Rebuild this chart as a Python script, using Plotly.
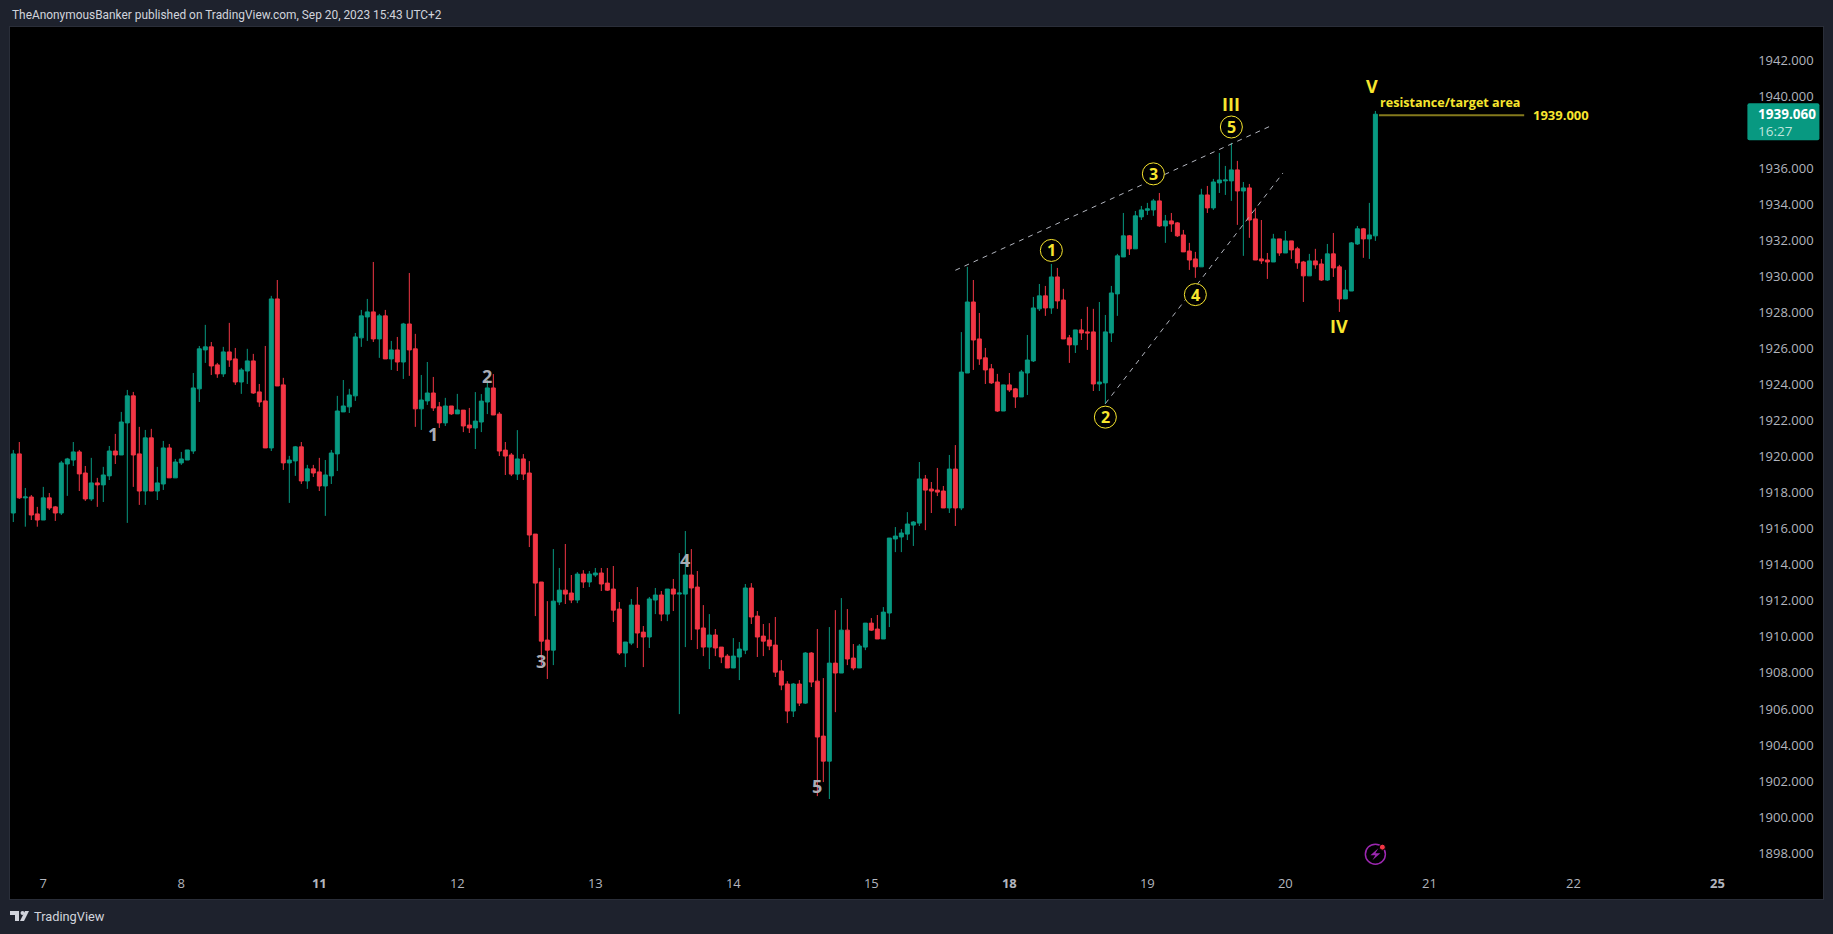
import plotly.graph_objects as go

opens = [
    1916.93,1920.21,1917.77,1917.82,1916.88,1916.54,1917.77,1917.27,1916.93,1919.65,
    1919.87,1920.32,1919.15,1917.71,1918.60,1918.49,1918.99,1920.37,1920.15,1921.93,
    1923.43,1920.21,1918.15,1921.10,1918.15,1918.54,1920.54,1918.88,1919.71,1919.87,
    1920.37,1923.82,1925.98,1926.15,1925.15,1924.65,1925.87,1925.48,1924.20,1924.81,
    1925.37,1923.65,1923.15,1920.54,1928.81,1924.04,1919.71,1919.82,1920.60,1918.71,
    1919.38,1919.21,1918.43,1918.99,1920.21,1922.54,1922.82,1923.43,1926.65,1927.81,
    1928.09,1926.59,1927.87,1925.48,1925.98,1925.31,1927.42,1926.04,1922.71,1923.15,
    1923.59,1922.82,1921.93,1922.87,1922.43,1922.64,1921.81,1921.65,1921.98,1923.09,
    1923.87,1922.42,1920.42,1920.15,1919.09,1919.93,1919.15,1915.76,1913.10,1909.88,
    1909.32,1911.99,1912.65,1912.49,1912.10,1913.54,1913.10,1913.49,1913.60,1913.04,
    1912.71,1911.60,1909.16,1909.71,1911.82,1910.32,1910.05,1912.10,1912.38,1911.32,
    1912.71,1912.43,1912.43,1913.49,1912.82,1910.55,1909.49,1910.16,1909.49,1908.99,
    1908.33,1908.94,1909.32,1912.77,1911.21,1910.10,1909.88,1909.60,1908.16,1907.44,
    1905.94,1907.44,1906.38,1909.16,1907.60,1904.55,1903.16,1908.60,1908.05,1910.43,
    1908.88,1908.33,1909.49,1910.82,1910.49,1909.94,1911.38,1915.49,1915.60,1915.76,
    1916.26,1916.37,1918.82,1918.26,1918.20,1918.15,1917.21,1919.37,1917.21,1924.70,
    1928.64,1926.59,1925.54,1924.93,1924.20,1922.59,1924.04,1923.82,1923.37,1924.70,
    1925.37,1928.26,1928.98,1928.31,1930.03,1928.75,1926.65,1926.26,1927.09,1926.98,
    1926.98,1924.09,1924.15,1926.92,1929.09,1931.14,1932.31,1931.59,1933.36,1933.73,
    1933.75,1934.25,1932.86,1933.14,1933.03,1932.36,1931.47,1931.03,1930.59,1934.58,
    1933.86,1935.25,1935.36,1935.36,1935.97,1934.80,1934.97,1933.25,1931.03,1930.97,
    1930.86,1932.14,1931.36,1932.03,1931.59,1930.86,1930.09,1930.92,1930.75,1929.86,
    1931.31,1930.59,1928.81,1929.25,1931.86,1932.70,1932.14,1932.31,
]
highs = [
    1920.43,1920.87,1918.32,1917.93,1917.27,1918.38,1918.04,1917.32,1919.82,1919.99,
    1920.87,1920.43,1919.54,1919.99,1918.88,1919.49,1920.65,1921.32,1922.54,1923.76,
    1923.65,1921.71,1921.54,1921.60,1919.49,1920.93,1920.76,1919.93,1920.32,1920.43,
    1924.70,1926.20,1927.37,1926.42,1925.26,1926.15,1927.48,1926.09,1924.98,1926.04,
    1925.76,1924.09,1926.20,1928.98,1929.86,1924.43,1920.10,1920.65,1920.87,1919.60,
    1919.60,1919.99,1919.87,1920.43,1923.43,1924.31,1923.82,1926.92,1928.20,1928.81,
    1930.86,1927.98,1928.20,1926.48,1926.70,1927.48,1930.25,1926.87,1924.59,1925.31,
    1924.48,1923.09,1923.32,1922.87,1923.54,1922.64,1922.76,1923.64,1923.53,1924.31,
    1924.64,1922.53,1920.87,1920.26,1921.53,1920.20,1919.81,1915.76,1913.10,1912.04,
    1914.93,1913.88,1915.21,1913.49,1913.65,1913.76,1913.71,1913.88,1913.88,1913.88,
    1913.99,1911.99,1909.77,1912.16,1912.82,1910.66,1912.27,1912.77,1912.60,1912.71,
    1913.27,1914.71,1915.93,1914.93,1913.71,1911.82,1911.32,1910.49,1909.49,1909.10,
    1909.99,1909.77,1912.99,1913.04,1911.49,1910.77,1910.82,1911.16,1908.77,1907.60,
    1907.49,1907.66,1909.21,1909.21,1910.49,1907.77,1910.60,1911.54,1912.21,1911.60,
    1909.66,1909.66,1910.82,1911.10,1911.27,1911.71,1915.54,1916.15,1916.04,1916.98,
    1916.48,1919.76,1919.04,1918.65,1919.43,1918.43,1920.15,1920.70,1926.97,1930.59,
    1929.86,1928.03,1926.09,1925.20,1924.65,1924.04,1924.70,1923.87,1924.87,1926.81,
    1928.92,1929.64,1929.53,1930.75,1930.53,1929.37,1926.81,1927.09,1927.70,1928.37,
    1928.26,1928.64,1927.92,1929.53,1931.31,1933.58,1932.36,1933.69,1933.97,1934.14,
    1934.36,1934.69,1933.47,1933.58,1933.08,1932.64,1931.92,1931.42,1934.92,1935.08,
    1935.47,1936.91,1936.19,1937.47,1936.47,1935.30,1935.19,1933.86,1933.19,1931.36,
    1932.42,1932.14,1932.58,1932.03,1931.70,1930.92,1931.31,1931.59,1931.03,1931.86,
    1932.47,1930.70,1930.42,1931.97,1932.86,1932.75,1934.14,1939.24,
]
lows = [
    1916.43,1917.71,1916.17,1916.54,1916.17,1916.54,1917.10,1916.49,1916.82,1917.88,
    1919.54,1918.15,1917.60,1917.60,1917.27,1917.54,1918.76,1919.65,1920.15,1916.38,
    1918.38,1917.38,1917.38,1918.15,1917.65,1918.21,1918.88,1918.88,1919.60,1919.87,
    1920.21,1923.09,1925.26,1924.59,1924.43,1924.48,1925.04,1924.04,1923.54,1924.09,
    1923.54,1922.82,1920.54,1920.37,1923.98,1919.32,1917.49,1918.99,1918.54,1918.27,
    1918.93,1918.15,1916.77,1918.54,1919.26,1922.54,1922.48,1923.15,1926.15,1926.48,
    1926.42,1925.54,1925.48,1924.87,1924.81,1924.37,1924.54,1921.71,1921.54,1922.93,
    1922.59,1921.65,1921.76,1922.37,1922.43,1921.42,1921.37,1920.48,1921.42,1922.42,
    1922.37,1920.09,1919.04,1918.98,1918.76,1918.76,1915.04,1911.21,1908.49,1907.72,
    1908.49,1911.82,1911.88,1911.93,1911.93,1912.77,1912.82,1913.38,1912.60,1912.60,
    1910.88,1909.05,1908.38,1909.60,1909.44,1908.38,1909.44,1911.32,1910.93,1910.93,
    1911.49,1905.77,1909.49,1909.88,1909.38,1908.99,1908.27,1908.99,1908.60,1908.33,
    1908.33,1907.66,1909.10,1910.77,1908.94,1908.99,1909.32,1907.83,1907.10,1905.27,
    1905.61,1906.22,1906.33,1907.27,1901.22,1902.00,1901.06,1905.88,1908.05,1908.49,
    1908.21,1908.33,1909.32,1910.38,1909.94,1909.94,1910.60,1914.76,1914.76,1915.43,
    1915.10,1916.21,1915.98,1916.93,1917.87,1917.21,1916.93,1916.21,1917.09,1924.70,
    1924.87,1925.15,1924.09,1924.09,1922.54,1922.59,1923.65,1922.76,1923.37,1923.48,
    1925.31,1928.14,1927.87,1927.98,1928.26,1926.59,1925.26,1925.81,1926.53,1925.98,
    1923.70,1923.70,1922.98,1926.42,1927.87,1931.14,1931.25,1931.59,1933.19,1933.47,
    1933.42,1932.81,1931.92,1932.53,1932.25,1931.42,1930.42,1929.98,1930.59,1933.58,
    1933.75,1934.69,1934.58,1934.25,1932.92,1931.20,1932.20,1930.97,1930.75,1929.92,
    1930.86,1931.20,1931.36,1931.03,1930.48,1928.64,1930.09,1930.48,1929.81,1929.81,
    1930.03,1928.09,1928.81,1929.25,1931.81,1931.09,1931.03,1932.03,
]
closes = [
    1920.21,1917.77,1917.82,1916.82,1916.54,1917.77,1917.21,1916.93,1919.71,1919.93,
    1920.32,1919.10,1917.71,1918.60,1918.49,1919.04,1920.37,1920.15,1921.98,1923.43,
    1920.15,1918.15,1921.10,1918.15,1918.60,1920.54,1918.88,1919.76,1919.93,1920.43,
    1923.87,1926.04,1926.15,1925.09,1924.65,1925.87,1925.42,1924.20,1924.87,1925.37,
    1923.59,1923.09,1920.54,1928.81,1923.98,1919.71,1919.87,1920.60,1918.71,1919.38,
    1919.15,1918.43,1919.04,1920.26,1922.59,1922.87,1923.48,1926.70,1927.87,1928.09,
    1926.59,1927.87,1925.48,1925.98,1925.31,1927.42,1925.98,1922.71,1923.20,1923.59,
    1922.76,1921.93,1922.87,1922.43,1922.65,1921.76,1921.65,1922.03,1923.14,1923.87,
    1922.37,1920.37,1920.09,1919.09,1919.93,1919.09,1915.71,1913.04,1909.82,1909.32,
    1912.04,1912.65,1912.43,1912.10,1913.54,1913.10,1913.54,1913.60,1912.99,1912.65,
    1911.54,1909.16,1909.77,1911.82,1910.27,1910.05,1912.16,1912.38,1911.32,1912.71,
    1912.43,1912.49,1913.49,1912.77,1910.49,1909.49,1910.16,1909.44,1908.94,1908.33,
    1908.99,1909.38,1912.77,1911.16,1910.05,1909.82,1909.55,1908.10,1907.38,1905.94,
    1907.44,1906.38,1909.16,1907.55,1904.50,1903.16,1908.60,1908.05,1910.43,1908.83,
    1908.33,1909.55,1910.82,1910.43,1909.94,1911.43,1915.54,1915.65,1915.82,1916.32,
    1916.43,1918.82,1918.20,1918.15,1918.09,1917.21,1919.37,1917.21,1924.75,1928.64,
    1926.53,1925.48,1924.87,1924.15,1922.59,1924.04,1923.76,1923.37,1924.76,1925.42,
    1928.31,1928.98,1928.31,1930.03,1928.70,1926.59,1926.26,1927.09,1926.92,1926.92,
    1924.09,1924.20,1926.98,1929.14,1931.20,1932.31,1931.59,1933.42,1933.75,1933.81,
    1934.25,1932.86,1933.14,1932.97,1932.31,1931.42,1930.97,1930.59,1934.58,1933.86,
    1935.30,1935.41,1935.41,1935.97,1934.80,1934.97,1933.19,1930.97,1930.92,1930.86,
    1932.14,1931.36,1932.03,1931.53,1930.81,1930.09,1930.92,1930.70,1929.86,1931.31,
    1930.53,1928.81,1929.31,1931.92,1932.70,1932.14,1932.36,1939.06,
]
assert len(opens) == len(highs) == len(lows) == len(closes) == 228

# date labels sit on bar numbers, the axis is plain bar index (no gaps at weekends)
day_ticks = [5, 28, 51, 74, 97, 120, 143, 166, 189, 212, 236, 260, 284]
day_labels = ["7", "8", "<b>11</b>", "12", "13", "14", "15", "<b>18</b>", "19", "20", "21", "22", "<b>25</b>"]
price_ticks = [1898 + 2 * i for i in range(23) if 1898 + 2 * i != 1938]  # 1938 is under the price tag

gray_waves = [("1", 70, 1921.3), ("2", 79, 1924.55), ("3", 88, 1908.7), ("4", 112, 1914.35), ("5", 134, 1901.8)]
circle_waves = [("1", 173, 1931.5), ("2", 182, 1922.25), ("3", 190, 1935.75), ("4", 197, 1929.05), ("5", 203, 1938.35)]
roman_waves = [("III", 203, 1939.65), ("IV", 221, 1927.3), ("V", 226.4, 1940.65)]

upper_trend = (157, 1930.4, 209.5, 1938.4)
lower_trend = (182, 1923.0, 211.6, 1935.8)
target_price = 1939.0
last_price = 1939.06

BG = "#1E222D"
BORDER = "#2A2E39"
GREEN = "#089981"
RED = "#F23645"
YELLOW = "#F7E52E"
GRAY = "#B2B5BE"
FONT = "Open Sans"

fig = go.Figure(go.Candlestick(
    x=list(range(len(opens))), open=opens, high=highs, low=lows, close=closes,
    whiskerwidth=0,
    increasing=dict(line=dict(color=GREEN, width=1), fillcolor=GREEN),
    decreasing=dict(line=dict(color=RED, width=1), fillcolor=RED),
    showlegend=False, hoverinfo="skip",
))

shapes = []
for x0, y0, x1, y1 in (upper_trend, lower_trend):
    shapes.append(dict(type="line", x0=x0, y0=y0, x1=x1, y1=y1,
                       line=dict(color=GRAY, width=1, dash="5px,5px")))
for _, cx, cy in circle_waves:
    shapes.append(dict(type="circle", xref="x", yref="y", xsizemode="pixel", ysizemode="pixel",
                       xanchor=cx, yanchor=cy, x0=-11, x1=11, y0=-11, y1=11,
                       fillcolor="#000000", line=dict(color=YELLOW, width=1)))
shapes.append(dict(type="line", x0=227.6, x1=251.8, y0=target_price, y1=target_price,
                   line=dict(color="#857A1C", width=2)))
# last price tag, rounded corners
shapes.append(dict(type="path", xref="x", yref="y", xsizemode="pixel", ysizemode="pixel",
                   xanchor=289, yanchor=last_price,
                   path="M 0 9 Q 0 11 2 11 L 70 11 Q 72 11 72 9 L 72 -24 Q 72 -26 70 -26 L 2 -26 Q 0 -26 0 -24 Z",
                   fillcolor=GREEN, line=dict(width=0)))
# lightning icon near the last bar
shapes += [
    dict(type="circle", xref="x", yref="y", xsizemode="pixel", ysizemode="pixel",
         xanchor=227, yanchor=1898, x0=-10, x1=10, y0=-10, y1=10,
         line=dict(color="#9C27B0", width=1.5)),
    dict(type="path", xref="x", yref="y", xsizemode="pixel", ysizemode="pixel",
         xanchor=227, yanchor=1898, path="M 3 6 L -5 -1 L 0 -1 L -3 -6 L 5 1 L 0 1 Z",
         fillcolor="#9C27B0", line=dict(width=0)),
    dict(type="circle", xref="x", yref="y", xsizemode="pixel", ysizemode="pixel",
         xanchor=227, yanchor=1898, x0=4, x1=10, y0=4, y1=10,
         fillcolor=RED, line=dict(color="#000000", width=1)),
]
# TradingView logo, pixels below the plot's bottom left corner
logo = dict(xref="paper", yref="paper", xsizemode="pixel", ysizemode="pixel", xanchor=0, yanchor=0,
            fillcolor="#D1D4DC", line=dict(width=0))
shapes += [
    dict(type="path", path="M 0 -12 L 9 -12 L 9 -22 L 5 -22 L 5 -16 L 0 -16 Z", **logo),
    dict(type="path", path="M 15 -12 L 19 -12 L 14 -22 L 10 -22 Z", **logo),
    dict(type="circle", x0=10.5, x1=14.5, y0=-12, y1=-16, **logo),
]


def label(text, x, y, color, size, bold=False, xanchor="center", xref="x", yref="y", family=FONT):
    return dict(text=f"<b>{text}</b>" if bold else text, x=x, y=y, xref=xref, yref=yref,
                showarrow=False, xanchor=xanchor, yanchor="middle",
                font=dict(family=family, size=size, color=color))


annotations = []
for t, x, y in gray_waves:
    annotations.append(label(t, x, y, "#A9ACB5", 18, bold=True))
for t, x, y in circle_waves:
    annotations.append(label(t, x, y, YELLOW, 16, bold=True))
for t, x, y in roman_waves:
    annotations.append(label(t, x, y, YELLOW, 18, bold=True))
annotations += [
    label("resistance/target area", 227.5, 1939.7, YELLOW, 12.6, bold=True, xanchor="left"),
    label("1939.000", 252.9, target_price, YELLOW, 13, bold=True, xanchor="left"),
    label("1939.060", 290.4, last_price, "#FFFFFF", 13.5, bold=True, xanchor="left"),
    label("16:27", 290.4, 1938.15, "#BFE5DD", 13.5, xanchor="left"),
    label("TheAnonymousBanker published on TradingView.com, Sep 20, 2023 15:43 UTC+2",
          0, 1.0138, "#D1D4DC", 11.9, xanchor="left", xref="paper", yref="paper", family="Roboto"),
    label("TradingView", 0.0122, -0.0206, "#D1D4DC", 12.8, xanchor="left", xref="paper", yref="paper", family="Roboto"),
]

fig.update_layout(
    width=1833, height=934,
    margin=dict(l=10, r=10, t=27, b=35, autoexpand=False),
    paper_bgcolor=BG, plot_bgcolor="#000000",
    boxgap=0.05, boxgroupgap=0.3,
    shapes=shapes, annotations=annotations,
    xaxis=dict(
        range=[-0.55, 301.6], rangeslider=dict(visible=False), showgrid=False, zeroline=False,
        tickmode="array", tickvals=day_ticks, ticktext=day_labels, ticks="", ticklabelposition="inside",
        tickfont=dict(family=FONT, size=13, color=GRAY), ticklabelstandoff=8,
        showline=True, mirror=True, linecolor=BORDER, linewidth=1,
    ),
    yaxis=dict(
        range=[1895.51, 1943.9], side="right", showgrid=False, zeroline=False,
        tickmode="array", tickvals=price_ticks, tickformat=".3f", ticks="", ticklabelposition="inside",
        tickfont=dict(family=FONT, size=13, color=GRAY), ticklabelstandoff=9, ticklabelshift=-1,
        showline=True, mirror=True, linecolor=BORDER, linewidth=1,
    ),
)

fig.write_html("out.html", config={"displayModeBar": False},
               post_script="document.body.style.margin='0';document.body.style.overflow='hidden';")
